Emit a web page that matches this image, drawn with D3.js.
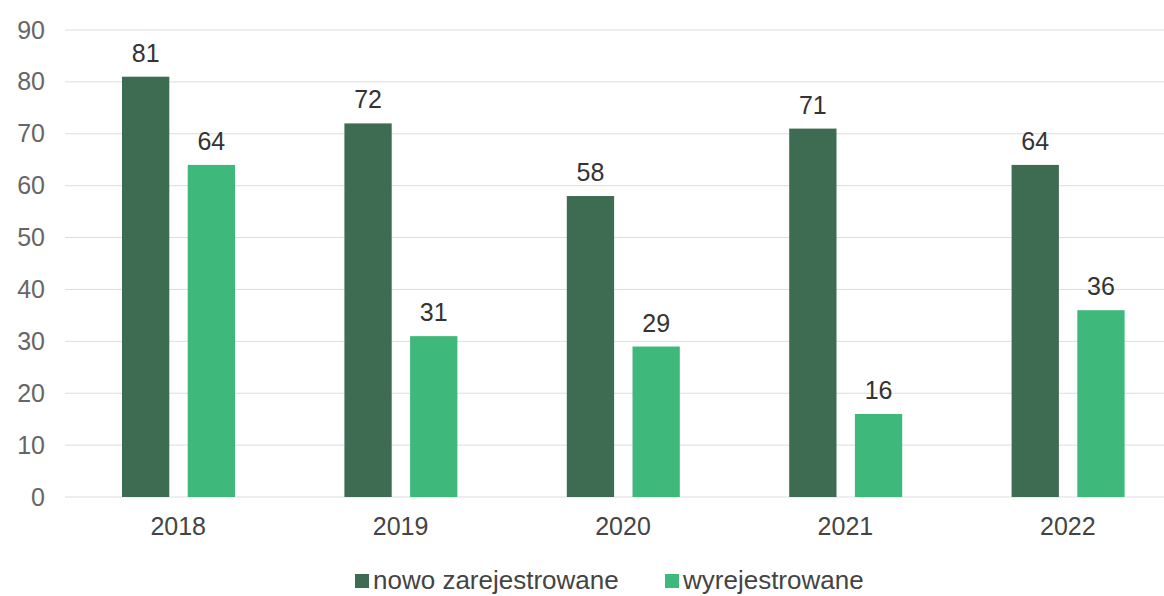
<!DOCTYPE html>
<html><head><meta charset="utf-8">
<script src="https://cdn.jsdelivr.net/npm/d3@7"></script>
<style>body{margin:0;background:#fff}svg{display:block}text{font-family:"Liberation Sans",Arial,sans-serif}</style>
</head><body><svg id="c" width="1164" height="596"></svg>
<script>
const years = ["2018","2019","2020","2021","2022"];
const nowo = [81,72,58,71,64];
const wyrej = [64,31,29,16,36];
const seriesNames = ["nowo zarejestrowane","wyrejestrowane"];
const colors = ["#3e6c53","#3fb97b"];
const yTicks = [0,10,20,30,40,50,60,70,80,90];

const svg = d3.select("#c");
const x = d3.scaleBand().domain(years).range([67,1179]);
const y = d3.scaleLinear().domain([0,90]).range([497,30]);
const sub = d3.scaleBand().domain([0,1]).range([55,168]).paddingInner(0.28);

svg.append("g").selectAll("line").data(yTicks).join("line")
  .attr("x1",65).attr("x2",1164).attr("y1",d=>y(d)).attr("y2",d=>y(d))
  .attr("stroke","#dcdde2").attr("stroke-width",1);

const yAxis = d3.axisLeft(y).tickValues(yTicks).tickSize(0).tickPadding(0);
const ga = svg.append("g").attr("transform","translate(45,0)").call(yAxis);
ga.select(".domain").remove();
ga.selectAll("text").attr("font-size",25).attr("fill","#666").attr("font-family","'Liberation Sans',Arial,sans-serif");

const xAxis = d3.axisBottom(x).tickSize(0).tickPadding(0);
const gx = svg.append("g").attr("transform","translate(0,517)").call(xAxis);
gx.select(".domain").remove();
gx.selectAll("text").attr("font-size",25).attr("fill","#444").attr("font-family","'Liberation Sans',Arial,sans-serif");

const data = years.map((yr,i)=>({yr, vals:[nowo[i],wyrej[i]]}));
const grp = svg.append("g").selectAll("g").data(data).join("g")
  .attr("transform",d=>`translate(${x(d.yr)},0)`);
grp.selectAll("rect").data(d=>d.vals.map((v,k)=>({v,k}))).join("rect")
  .attr("x",d=>sub(d.k)).attr("width",sub.bandwidth())
  .attr("y",d=>y(d.v)).attr("height",d=>y(0)-y(d.v))
  .attr("fill",d=>colors[d.k]);
grp.selectAll("text.val").data(d=>d.vals.map((v,k)=>({v,k}))).join("text")
  .attr("class","val")
  .attr("x",d=>sub(d.k)+sub.bandwidth()/2).attr("y",d=>y(d.v)-15)
  .attr("text-anchor","middle").attr("font-size",25).attr("fill","#333")
  .text(d=>d.v);

const leg = svg.append("g");
const legX = [355,665];
seriesNames.forEach((n,k)=>{
  leg.append("rect").attr("x",legX[k]).attr("y",574).attr("width",14).attr("height",14).attr("fill",colors[k]);
  leg.append("text").attr("x",legX[k]+18).attr("y",589).attr("font-size",26).attr("fill","#444").text(n);
});
</script></body></html>
